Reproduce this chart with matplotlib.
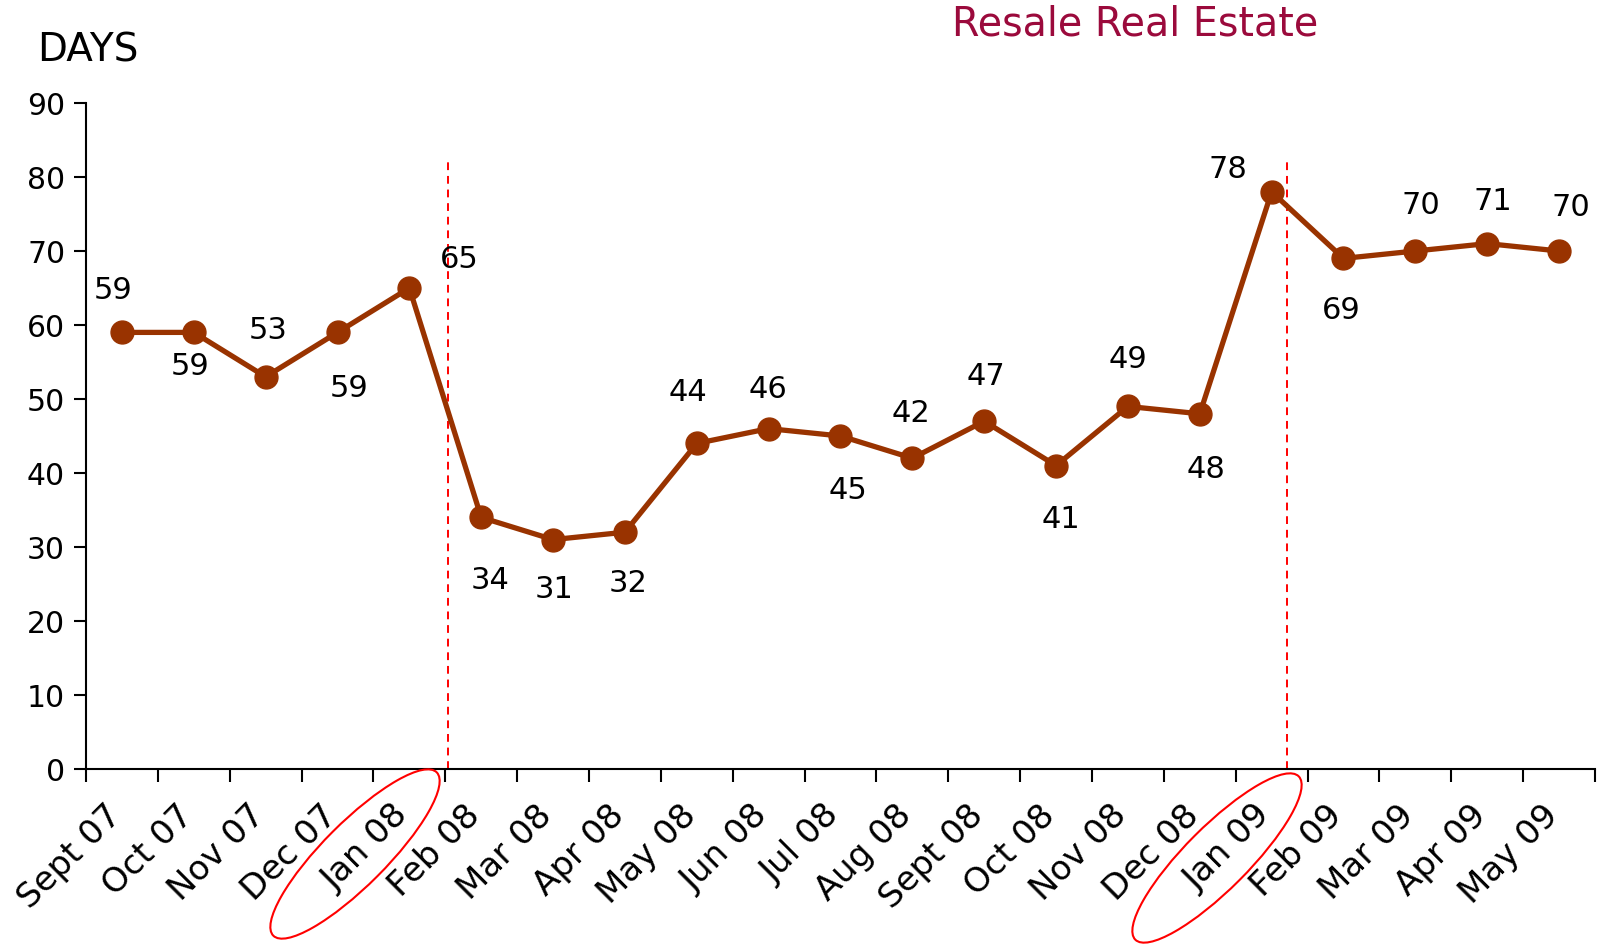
import matplotlib.pyplot as plt
import matplotlib.transforms as mtransforms
from matplotlib.patches import Ellipse
import numpy as np

plt.rcParams['font.family'] = ['DejaVu Sans']

# data
months = ['Sept 07', 'Oct 07', 'Nov 07', 'Dec 07', 'Jan 08', 'Feb 08', 'Mar 08',
          'Apr 08', 'May 08', 'Jun 08', 'Jul 08', 'Aug 08', 'Sept 08', 'Oct 08',
          'Nov 08', 'Dec 08', 'Jan 09', 'Feb 09', 'Mar 09', 'Apr 09', 'May 09']
days = [59, 59, 53, 59, 65, 34, 31, 32, 44, 46, 45, 42, 47, 41, 49, 48,
        78, 69, 70, 71, 70]
# where the two red markers sit (category units)
marker_lines = [5.04, 16.72]
marker_top = 82

# label offsets in pixels (dx, dy), dy positive = up
label_off = [(-9, 43), (-4, -33), (2, 47), (12, -55), (50, 29), (9, -62),
             (1, -49), (3, -50), (-9, 52), (-1, 40), (7, -54), (-1, 46),
             (2, 46), (5, -53), (0, 48), (6, -55), (-44, 23), (-2, -51),
             (6, 46), (6, 43), (12, 44)]

fig = plt.figure(figsize=(16.05, 9.45), dpi=100)
ax = fig.add_axes([86 / 1605, 1 - 770 / 945, (1595 - 86) / 1605, (770 - 104) / 945])

x = np.arange(len(days)) + 0.5
ax.plot(x, days, color='#993300', lw=3.8, marker='o', ms=16.5, zorder=3)

for xi, v, (dx, dy) in zip(x, days, label_off):
    ax.annotate(str(v), (xi, v), xytext=(dx, dy), textcoords='offset pixels',
                ha='center', va='center', fontsize=22)

for xl in marker_lines:
    ax.plot([xl, xl], [0, marker_top], color='red', lw=1.4, ls=(0, (4, 3)), zorder=2)

ax.set_xlim(0, len(days))
ax.set_ylim(0, 90)
ax.set_yticks(range(0, 91, 10))
ax.set_xticks(range(0, len(days) + 1))
ax.set_xticklabels([])
ax.set_xticks(x, minor=True)
ax.set_xticklabels(months, minor=True, rotation=45, ha='right', va='center',
                   rotation_mode='anchor', fontsize=24.5)
ax.tick_params(axis='x', which='minor', length=0, pad=29)
ax.tick_params(axis='both', which='major', length=9, width=1.5, labelsize=21.5)
ax.tick_params(axis='y', pad=6)

# nudge the month labels a little to the left
shift = mtransforms.ScaledTranslation(-6 / 100, 0, fig.dpi_scale_trans)
for lab in ax.get_xticklabels(minor=True):
    lab.set_transform(lab.get_transform() + shift)

for s in ['top', 'right']:
    ax.spines[s].set_visible(False)
for s in ['left', 'bottom']:
    ax.spines[s].set_linewidth(1.5)

fig.text(37 / 1605, 1 - 51 / 945, 'DAYS', fontsize=28, va='center', ha='left')
fig.text(1135 / 1605, 1 - 24 / 945, 'Resale Real Estate', fontsize=28.5,
         va='center', ha='center', color='#9b0a3c')

# red ellipses round the two January labels (in inches)
for cx, cy in [(355, 90), (1217, 86)]:
    e = Ellipse((cx / 100, cy / 100), 2.31, 0.63, angle=45,
                transform=fig.dpi_scale_trans, fill=False, ec='red', lw=1.5)
    fig.add_artist(e)

fig.savefig('out.png', dpi=100)
